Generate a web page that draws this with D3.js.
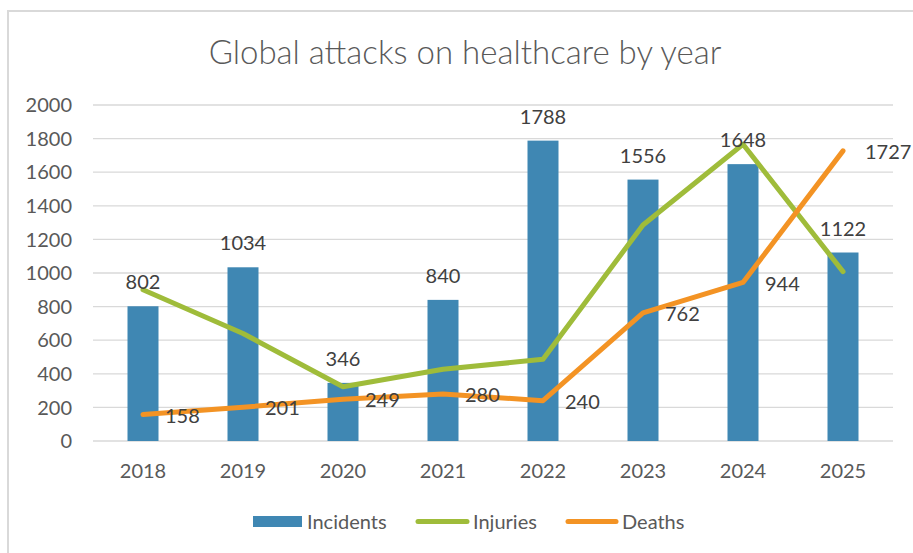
<!DOCTYPE html>
<html>
<head>
<meta charset="utf-8">
<script src="https://cdn.jsdelivr.net/npm/d3@7"></script>
<style>
  html, body { margin: 0; padding: 0; background: #fff; }
  svg { display: block; font-family: Lato, "Open Sans", sans-serif; }
</style>
</head>
<body>
<div id="chart"></div>
<script>
/* Global attacks on healthcare — incidents as bars, injuries and deaths as lines. */

var years = ["2018", "2019", "2020", "2021", "2022", "2023", "2024", "2025"];
var incidents = [802, 1034, 346, 840, 1788, 1556, 1648, 1122];
var injuries = [900, 640, 323, 427, 486, 1286, 1766, 1008];
var deaths = [158, 201, 249, 280, 240, 762, 944, 1727];
var yTicks = [0, 200, 400, 600, 800, 1000, 1200, 1400, 1600, 1800, 2000];

var W = 913, H = 553;
var blue = "#3f87b3", green = "#9fbc3a", orange = "#f39324";
var grid = "#d9d9d9", axisText = "#595959", labelText = "#404040";

var svg = d3.select("#chart").append("svg").attr("width", W).attr("height", H);

// chart frame (only top and left edges fall inside the picture)
svg.append("rect")
  .attr("x", 8).attr("y", 11).attr("width", W + 20).attr("height", H + 20)
  .attr("fill", "#fff").attr("stroke", grid).attr("stroke-width", 2);

svg.append("text")
  .attr("x", 465).attr("y", 64)
  .attr("text-anchor", "middle")
  .attr("font-size", 33).attr("font-weight", 300).attr("fill", axisText)
  .text("Global attacks on healthcare by year");

var x = d3.scaleBand().domain(years).range([93, 893]).paddingInner(0.69).paddingOuter(0.345);
var y = d3.scaleLinear().domain([0, 2000]).range([441, 105]);
var cx = function (i) { return x(years[i]) + x.bandwidth() / 2; };

// gridlines
svg.append("g").selectAll("line").data(yTicks).join("line")
  .attr("x1", 93).attr("x2", 893)
  .attr("y1", function (d) { return y(d); }).attr("y2", function (d) { return y(d); })
  .attr("stroke", grid).attr("stroke-width", 1.3);

// y axis labels
svg.append("g").selectAll("text").data(yTicks).join("text")
  .attr("x", 72).attr("y", function (d) { return y(d); })
  .attr("dy", "0.36em").attr("text-anchor", "end")
  .attr("font-size", 20).attr("fill", axisText)
  .text(function (d) { return d; });

// x axis labels
svg.append("g").selectAll("text").data(years).join("text")
  .attr("x", function (d, i) { return cx(i); }).attr("y", 478)
  .attr("text-anchor", "middle")
  .attr("font-size", 20).attr("fill", axisText)
  .text(function (d) { return d; });

// bars
svg.append("g").selectAll("rect").data(incidents).join("rect")
  .attr("x", function (d, i) { return x(years[i]); })
  .attr("y", function (d) { return y(d); })
  .attr("width", x.bandwidth())
  .attr("height", function (d) { return y(0) - y(d); })
  .attr("fill", blue);

var line = d3.line()
  .x(function (d, i) { return cx(i); })
  .y(function (d) { return y(d); });

svg.append("path").datum(injuries)
  .attr("fill", "none").attr("stroke", green).attr("stroke-width", 5)
  .attr("stroke-linecap", "round").attr("stroke-linejoin", "round")
  .attr("d", line);

svg.append("path").datum(deaths)
  .attr("fill", "none").attr("stroke", orange).attr("stroke-width", 5)
  .attr("stroke-linecap", "round").attr("stroke-linejoin", "round")
  .attr("d", line);

// bar labels
svg.append("g").selectAll("text").data(incidents).join("text")
  .attr("x", function (d, i) { return cx(i); })
  .attr("y", function (d) { return y(d) - 24; })
  .attr("dy", "0.36em").attr("text-anchor", "middle")
  .attr("font-size", 20).attr("fill", labelText)
  .text(function (d) { return d; });

// death labels, to the right of each point
svg.append("g").selectAll("text").data(deaths).join("text")
  .attr("x", function (d, i) { return cx(i) + 22; })
  .attr("y", function (d) { return y(d) + 1; })
  .attr("dy", "0.36em")
  .attr("font-size", 20).attr("fill", labelText)
  .text(function (d) { return d; });

// legend
var legend = svg.append("g").attr("font-size", 20).attr("fill", axisText);
legend.append("rect").attr("x", 253).attr("y", 516).attr("width", 49).attr("height", 11).attr("fill", blue);
legend.append("text").attr("x", 307).attr("y", 521.5).attr("dy", "0.36em").text("Incidents");
legend.append("line").attr("x1", 418).attr("x2", 467).attr("y1", 521.5).attr("y2", 521.5)
  .attr("stroke", green).attr("stroke-width", 5).attr("stroke-linecap", "round");
legend.append("text").attr("x", 473).attr("y", 521.5).attr("dy", "0.36em").text("Injuries");
legend.append("line").attr("x1", 568).attr("x2", 616).attr("y1", 521.5).attr("y2", 521.5)
  .attr("stroke", orange).attr("stroke-width", 5).attr("stroke-linecap", "round");
legend.append("text").attr("x", 622).attr("y", 521.5).attr("dy", "0.36em").text("Deaths");
</script>
</body>
</html>
